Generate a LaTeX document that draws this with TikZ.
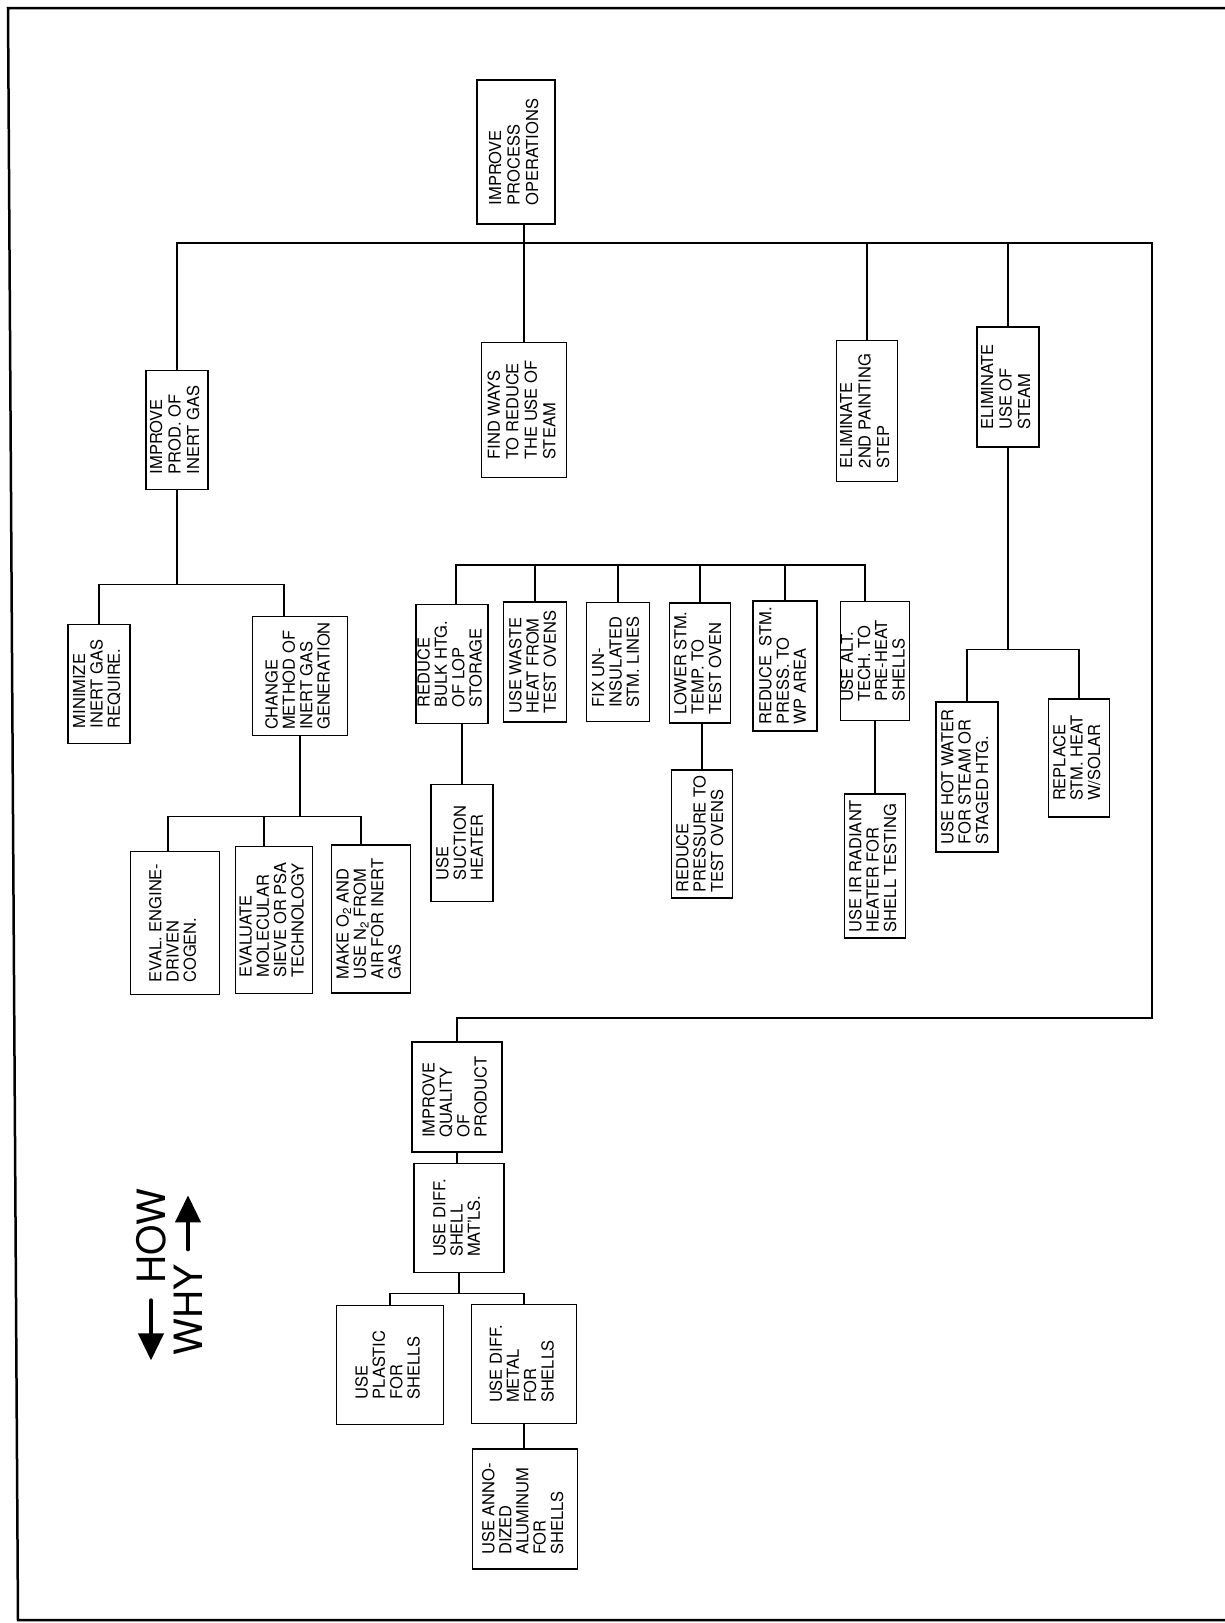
\documentclass[tikz,border=0pt]{standalone}
\usepackage{fontspec}
\setmainfont{TeX Gyre Heros}
\usepackage{graphicx}
\usetikzlibrary{arrows.meta}

\newcommand\sidetext[1]{\rotatebox{90}{\begin{tabular}{@{}l@{}}#1\end{tabular}}}

\begin{document}
\begin{tikzpicture}[x=1pt,y=-1pt,line cap=round,
  box/.style={draw,line width=1.4pt,inner sep=0pt,font=\fontsize{16.5}{16.7}\selectfont},
  topbox/.style={box,font=\fontsize{16.5}{18.5}\selectfont},
  boxsize/.style 2 args={minimum width=#1pt,minimum height=#2pt},
  conn/.style={line width=1.3pt},
  legend/.style={inner sep=0pt,font=\fontsize{39}{39}\selectfont},
  legarrow/.style={line width=4pt,-{Triangle[length=27pt,width=25pt]}}]
\useasboundingbox (0,0) rectangle (1225,1623);
\draw[line width=2.5pt] (1225,8) -- (8,8) -- (18,1620) -- (1225,1620);

\node[topbox,boxsize={78}{144}] (pio) at (516,152) {\sidetext{IMPROVE\\PROCESS\\OPERATIONS}};
\node[topbox,boxsize={62}{119}] (ig) at (177,430) {\sidetext{IMPROVE\\PROD. OF\\INERT GAS}};
\node[topbox,boxsize={85}{135}] (fw) at (524,410) {\sidetext{FIND WAYS\\TO REDUCE\\THE USE OF\\STEAM}};
\node[topbox,boxsize={61}{141}] (e2) at (867,411) {\sidetext{ELIMINATE\\2ND PAINTING\\STEP}};
\node[topbox,boxsize={62}{120}] (es) at (1008,387) {\sidetext{ELIMINATE\\USE OF\\STEAM}};

\node[box,boxsize={62}{119}] (mi) at (99,684) {\sidetext{MINIMIZE\\INERT GAS\\REQUIRE.}};
\node[box,boxsize={95}{119}] (cm) at (300,676) {\sidetext{CHANGE\\METHOD OF\\INERT GAS\\GENERATION}};
\node[box,boxsize={89}{143}] (ev) at (175,923) {\sidetext{EVAL. ENGINE-\\DRIVEN\\COGEN.}};
\node[box,boxsize={77}{147}] (mo) at (274,920) {\sidetext{EVALUATE\\MOLECULAR\\SIEVE OR PSA\\TECHNOLOGY}};
\node[box,boxsize={79}{148}] (mk) at (371,919) {\sidetext{MAKE O\textsubscript{2} AND\\USE N\textsubscript{2} FROM\\AIR FOR INERT\\GAS}};

\node[box,boxsize={72}{119}] (rb) at (452,664) {\sidetext{REDUCE\\BULK HTG.\\OF LOP\\STORAGE}};
\node[box,boxsize={62}{117}] (us) at (462,843) {\sidetext{USE\\SUCTION\\HEATER}};
\node[box,boxsize={63}{120}] (uw) at (535,662) {\sidetext{USE WASTE\\HEAT FROM\\TEST OVENS}};
\node[box,boxsize={63}{119}] (fx) at (618,662) {\sidetext{FIX UN-\\INSULATED\\STM. LINES}};
\node[box,boxsize={61}{120}] (lo) at (700,663) {\sidetext{LOWER STM.\\TEMP. TO\\TEST OVEN}};
\node[box,boxsize={61}{128}] (rp) at (702,834) {\sidetext{REDUCE\\PRESSURE TO\\TEST OVENS}};
\node[box,boxsize={64}{130}] (rs) at (785,666) {\sidetext{REDUCE~~STM.\\PRESS. TO\\WP AREA}};
\node[box,boxsize={69}{119}] (ua) at (875,661) {\sidetext{USE ALT.\\TECH. TO\\PRE-HEAT\\SHELLS}};
\node[box,boxsize={61}{144}] (ui) at (875,866) {\sidetext{USE IR RADIANT\\HEATER FOR\\SHELL TESTING}};
\node[box,boxsize={62}{150}] (hw) at (967,777) {\sidetext{USE HOT WATER\\FOR STEAM OR\\STAGED HTG.}};
\node[box,boxsize={61}{118}] (rl) at (1079,758) {\sidetext{REPLACE\\STM. HEAT\\W/SOLAR}};

\node[box,boxsize={90}{110}] (iq) at (457,1097) {\sidetext{IMPROVE\\QUALITY\\OF\\PRODUCT}};
\node[box,boxsize={90}{109}] (ud) at (459,1218) {\sidetext{USE DIFF.\\SHELL\\MAT'LS.}};
\node[box,boxsize={107}{119}] (up) at (390,1365) {\sidetext{USE\\PLASTIC\\FOR\\SHELLS}};
\node[box,boxsize={105}{119}] (um) at (524,1364) {\sidetext{USE DIFF.\\METAL\\FOR\\SHELLS}};
\node[box,boxsize={105}{120}] (ual) at (525,1509) {\sidetext{USE ANNO-\\DIZED\\ALUMINUM\\FOR\\SHELLS}};

\coordinate (busR) at (1152,243);
\coordinate (busQ) at (1152,1018);
\draw[conn] (pio.south -| fw.north) -- (fw.north);
\draw[conn] (ig.north) |- (busR) -- (busQ) -| (iq.north);
\draw[conn] (e2.north) -- (e2.north |- busR);
\draw[conn] (es.north) -- (es.north |- busR);

\path (ig.south) ++(0,94) coordinate (igfork);
\draw[conn] (ig.south) -- (igfork);
\draw[conn] (mi.north) |- (igfork);
\draw[conn] ([xshift=-16pt]cm.north) |- (igfork);

\path (cm.south) ++(0,80) coordinate (cmfork);
\draw[conn] (cm.south) -- (cmfork);
\draw[conn] ([xshift=-7pt]ev.north) |- (cmfork);
\draw[conn] ([xshift=-10pt]mo.north) |- (cmfork);
\draw[conn] ([xshift=-10pt]mk.north) |- (cmfork);

\coordinate (stbus) at (660,565);
\draw[conn] ([xshift=4pt]rb.north) |- (stbus);
\draw[conn] (uw.north) |- (stbus);
\draw[conn] (fx.north) |- (stbus);
\draw[conn] (lo.north) |- (stbus);
\draw[conn] (rs.north) |- (stbus);
\draw[conn] ([xshift=-10pt]ua.north) |- (stbus);
\draw[conn] (us.north |- rb.south) -- (us.north);
\draw[conn] (rp.north |- lo.south) -- (rp.north);
\draw[conn] (ua.south) -- (ui.north);

\path (es.south) ++(0,202) coordinate (esfork);
\draw[conn] (es.south) -- (esfork);
\draw[conn] (hw.north) |- (esfork);
\draw[conn] (rl.north) |- (esfork);

\draw[conn] (iq.south) -- (iq.south |- ud.north);
\path (ud.south) ++(0,20) coordinate (udfork);
\draw[conn] (ud.south) -- (udfork);
\draw[conn] (up.north) |- (udfork);
\draw[conn] (um.north) |- (udfork);
\draw[conn] (um.south) -- (um.south |- ual.north);

\node[legend] (how) at (151,1236) {\rotatebox{90}{HOW}};
\node[legend] (why) at (188,1310) {\rotatebox{90}{WHY}};
\draw[legarrow] ([yshift=-17pt]how.south) -- ++(0,60) coordinate (howtip);
\draw[legarrow] ([yshift=15pt]why.north) -- ++(0,-54) coordinate (whytip);
\end{tikzpicture}
\end{document}
